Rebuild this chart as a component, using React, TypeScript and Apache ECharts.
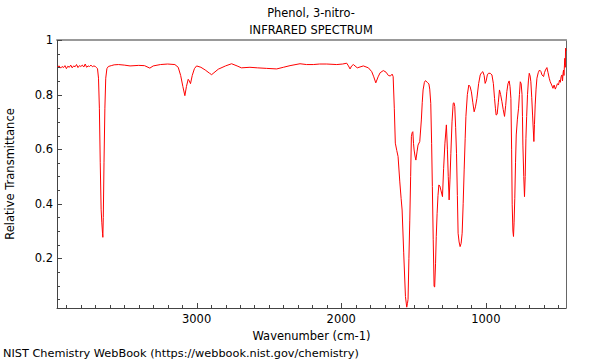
import React, { useEffect, useRef } from "react";
import * as echarts from "echarts";

const titleLine1 = "Phenol, 3-nitro-";
const titleLine2 = "INFRARED SPECTRUM";
const xName = "Wavenumber (cm-1)";
const yName = "Relative Transmittance";
const footer = "NIST Chemistry WebBook (https://webbook.nist.gov/chemistry)";

const xMajorTicks = [1000, 2000, 3000];
const xMinorTicks = [500, 600, 700, 800, 900, 1100, 1200, 1300, 1400, 1500, 1600, 1700, 1800, 1900, 2100, 2200, 2300, 2400, 2500, 2600, 2700, 2800, 2900, 3100, 3200, 3300, 3400, 3500, 3600, 3700, 3800, 3900];
const yMajorTicks = [0.2, 0.4, 0.6, 0.8, 1];
const yMinorTicks = [0.05, 0.1, 0.15, 0.25, 0.3, 0.35, 0.45, 0.5, 0.55, 0.65, 0.7, 0.75, 0.85, 0.9, 0.95];

const wavenumbers = [
  3965, 3950, 3940, 3930, 3920, 3910, 3900, 3890, 3880, 3870, 3860, 3850, 3840, 3830, 3820, 3810, 3800, 3790, 3780, 3770, 3760, 3750, 3740, 3730, 3720, 3710, 3700, 3690,
  3685, 3678, 3672, 3666, 3660, 3655, 3650, 3648, 3645, 3640, 3634, 3628, 3620, 3610, 3590, 3570, 3540, 3500, 3460, 3400, 3360, 3323, 3300, 3250, 3200, 3150,
  3127, 3110, 3095, 3081, 3070, 3058, 3050, 3042, 3030, 3015, 3000, 2970, 2940, 2910, 2896, 2880, 2850, 2800, 2758, 2720, 2690, 2631, 2580, 2516, 2446, 2400, 2354, 2285, 2240, 2193, 2150, 2100, 2031, 1990, 1962, 1950, 1939, 1928, 1916, 1889, 1847, 1812, 1789, 1775, 1761, 1745, 1731, 1709, 1690, 1674, 1660, 1648, 1641,
  1633, 1626, 1616, 1607, 1595, 1586, 1579, 1568, 1556, 1547, 1542, 1538, 1532, 1526, 1520, 1515, 1510, 1505, 1500, 1496, 1490, 1484, 1476, 1469, 1457, 1446, 1440, 1434, 1425, 1418, 1405, 1394, 1388, 1381, 1375, 1370, 1364, 1358, 1354, 1348, 1343, 1337, 1331, 1325, 1318, 1311, 1300, 1292, 1283, 1273, 1266, 1260, 1254, 1248, 1242, 1234, 1226, 1220, 1215, 1209, 1203, 1197, 1192, 1185, 1178, 1171, 1164, 1157, 1150, 1143, 1138, 1128, 1118,
  1109, 1100, 1090, 1081, 1072, 1062, 1050, 1039, 1030, 1021, 1012, 1005, 998, 990, 982, 970, 958, 948, 940, 934, 929, 922, 914, 906, 898, 889, 880, 871, 863, 855, 847, 839, 833, 827, 822, 818, 813, 809, 805, 800, 795, 790, 782, 774, 768, 762, 756, 750, 747, 744, 738, 733, 728, 723, 718, 712, 706, 700, 694, 689, 683, 677, 672, 668, 664, 659, 653, 647, 638, 629, 620, 612, 601, 595, 588, 578, 570, 562, 555, 545, 536, 528, 520, 513, 505, 498, 491, 485, 480, 474, 470, 466, 463, 460, 457, 454, 451, 449, 446,
];

const transmittance = [
  0.9, 0.905, 0.897, 0.903, 0.899, 0.906, 0.895, 0.904, 0.9, 0.908, 0.898, 0.905, 0.902, 0.91, 0.899, 0.906, 0.903, 0.908, 0.901, 0.912, 0.9, 0.905, 0.903, 0.908, 0.902, 0.905, 0.903, 0.898,
  0.895, 0.86, 0.75, 0.55, 0.38, 0.33, 0.29, 0.277, 0.35, 0.55, 0.75, 0.86, 0.895, 0.903, 0.906, 0.909, 0.91, 0.908, 0.905, 0.907, 0.906, 0.897, 0.905, 0.91, 0.912, 0.91,
  0.9, 0.87, 0.83, 0.796, 0.83, 0.856, 0.85, 0.84, 0.87, 0.895, 0.905, 0.9, 0.89, 0.878, 0.873, 0.88, 0.893, 0.905, 0.913, 0.905, 0.898, 0.9, 0.898, 0.896, 0.894, 0.9, 0.906, 0.913, 0.91, 0.91, 0.912, 0.912, 0.91, 0.912, 0.915, 0.905, 0.894, 0.905, 0.91, 0.898, 0.905, 0.898, 0.884, 0.865, 0.843, 0.865, 0.88, 0.888, 0.882, 0.87, 0.868, 0.875, 0.866,
  0.75, 0.622, 0.595, 0.573, 0.48, 0.42, 0.377, 0.22, 0.06, 0.021, 0.035, 0.05, 0.2, 0.34, 0.5, 0.646, 0.66, 0.664, 0.62, 0.597, 0.575, 0.56, 0.59, 0.615, 0.628, 0.707, 0.77, 0.817, 0.845, 0.851, 0.845, 0.839, 0.82, 0.768, 0.62, 0.463, 0.27, 0.097, 0.095, 0.18, 0.28, 0.365, 0.43, 0.469, 0.465, 0.45, 0.426, 0.53, 0.622, 0.689, 0.6, 0.5, 0.414, 0.49, 0.585, 0.7, 0.768, 0.77, 0.756, 0.68, 0.585, 0.43, 0.292, 0.26, 0.243, 0.255, 0.292, 0.4, 0.524, 0.64, 0.72, 0.8, 0.835,
  0.829, 0.81, 0.77, 0.737, 0.755, 0.786, 0.84, 0.872, 0.88, 0.884, 0.87, 0.841, 0.85, 0.872, 0.878, 0.878, 0.872, 0.84, 0.786, 0.75, 0.725, 0.728, 0.77, 0.817, 0.8, 0.774, 0.745, 0.72, 0.76, 0.811, 0.84, 0.85, 0.83, 0.786, 0.6, 0.396, 0.3, 0.28, 0.33, 0.42, 0.55, 0.652, 0.71, 0.75, 0.8, 0.847, 0.84, 0.8, 0.72, 0.615, 0.5, 0.426, 0.5, 0.64, 0.72, 0.8, 0.85, 0.878, 0.868, 0.847, 0.79, 0.725, 0.67, 0.628, 0.69, 0.762, 0.82, 0.86, 0.88, 0.89, 0.885, 0.872, 0.866, 0.88, 0.89, 0.899, 0.88, 0.86, 0.847, 0.835, 0.823, 0.835, 0.82, 0.829, 0.84, 0.835, 0.853, 0.845, 0.865, 0.872, 0.85, 0.88, 0.89, 0.87, 0.905, 0.933, 0.9, 0.97, 0.96,
];

const FONT = "DejaVu Sans";
const X_MIN = 446;
const X_MAX = 3965;
const Y_MIN = 0.018;
const Y_MAX = 1;
const AXIS_COLOR = "#444";

export default function App() {
  const ref = useRef<HTMLDivElement>(null);
  useEffect(() => {
    if (!ref.current) return;
    const chart = echarts.init(ref.current, undefined, { renderer: "svg" });
    const data = wavenumbers.map((w, i) => [w, transmittance[i]]);
    const xTickData = [
      ...xMajorTicks.map((v) => [v, 5]),
      ...xMinorTicks.map((v) => [v, 3]),
    ];
    const yTickData = [
      ...yMajorTicks.map((v) => [v, 5]),
      ...yMinorTicks.map((v) => [v, 3]),
    ];
    const xTickRender = (params: any, api: any) => {
      const p = api.coord([api.value(0), Y_MIN]);
      const len = api.value(1);
      return {
        type: "line",
        shape: { x1: Math.round(p[0]) + 0.5, y1: p[1], x2: Math.round(p[0]) + 0.5, y2: p[1] - len },
        style: { stroke: AXIS_COLOR, lineWidth: 1 },
      };
    };
    const yTickRender = (params: any, api: any) => {
      const p = api.coord([X_MAX, api.value(0)]);
      const len = api.value(1);
      return {
        type: "line",
        shape: { x1: p[0], y1: Math.round(p[1]) + 0.5, x2: p[0] + len, y2: Math.round(p[1]) + 0.5 },
        style: { stroke: AXIS_COLOR, lineWidth: 1 },
      };
    };
    chart.setOption({
      animation: false,
      textStyle: { fontFamily: FONT },
      grid: { left: 57, right: 34, top: 40, bottom: 52, containLabel: false, outerBoundsMode: "none" },
      graphic: [
        { type: "text", x: 311, y: 13, style: { text: titleLine1, font: `11.4px '${FONT}'`, fill: "#000", textAlign: "center", textVerticalAlign: "middle" } },
        { type: "text", x: 311, y: 30, style: { text: titleLine2, font: `11.4px '${FONT}'`, fill: "#000", textAlign: "center", textVerticalAlign: "middle" } },
        { type: "text", x: 3, y: 353, style: { text: footer, font: `11.3px '${FONT}'`, fill: "#000", textAlign: "left", textVerticalAlign: "middle" } },
      ],
      xAxis: [
        {
          type: "value",
          inverse: true,
          min: X_MIN,
          max: X_MAX,
          splitLine: { show: false },
          position: "bottom",
          name: xName,
          nameLocation: "middle",
          nameGap: 21,
          nameTextStyle: { fontSize: 11.5, color: "#000", fontFamily: FONT },
          axisLine: { lineStyle: { color: AXIS_COLOR, width: 1 } },
          axisTick: { show: false },
          axisLabel: {
            customValues: xMajorTicks,
            fontSize: 11.5,
            color: "#000",
            fontFamily: FONT,
            margin: 5,
            formatter: (v: number) => String(v),
          },
        },
        {
          type: "value",
          inverse: true,
          min: X_MIN,
          max: X_MAX,
          splitLine: { show: false },
          position: "top",
          axisLine: { lineStyle: { color: "#999", width: 2 } },
          axisTick: { show: false },
          axisLabel: { show: false },
        },
      ],
      yAxis: [
        {
          type: "value",
          min: Y_MIN,
          max: Y_MAX,
          splitLine: { show: false },
          position: "left",
          name: yName,
          nameLocation: "middle",
          nameGap: 41,
          nameTextStyle: { fontSize: 11.5, color: "#000", fontFamily: FONT },
          axisLine: { show: true, lineStyle: { color: AXIS_COLOR, width: 1 } },
          axisTick: { show: false },
          axisLabel: {
            customValues: yMajorTicks,
            fontSize: 11.5,
            color: "#000",
            fontFamily: FONT,
            margin: 4,
            formatter: (v: number) => String(Math.round(v * 10) / 10),
          },
        },
        {
          type: "value",
          min: Y_MIN,
          max: Y_MAX,
          splitLine: { show: false },
          position: "right",
          axisLine: { show: true, lineStyle: { color: "#666", width: 1 } },
          axisTick: { show: false },
          axisLabel: { show: false },
        },
      ],
      series: [
        {
          type: "custom",
          xAxisIndex: 0,
          yAxisIndex: 0,
          data: xTickData,
          renderItem: xTickRender,
          silent: true,
          clip: false,
          z: 5,
        },
        {
          type: "custom",
          xAxisIndex: 0,
          yAxisIndex: 0,
          data: yTickData,
          renderItem: yTickRender,
          silent: true,
          clip: false,
          z: 5,
        },
        {
          type: "line",
          xAxisIndex: 0,
          yAxisIndex: 0,
          data,
          showSymbol: false,
          symbol: "none",
          lineStyle: { color: "#ff0000", width: 1 },
          silent: true,
          z: 3,
        },
      ],
    });
    return () => chart.dispose();
  }, []);
  return <div ref={ref} style={{ width: 600, height: 360, position: "absolute", left: 0, top: 0 }} />;
}
